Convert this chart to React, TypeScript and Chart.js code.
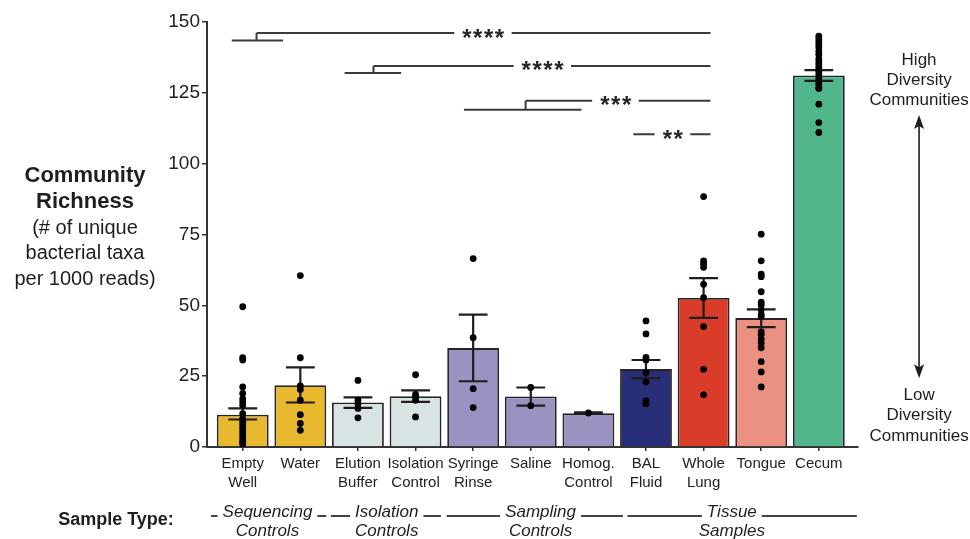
import React, { useEffect, useRef } from "react";
import { Chart, registerables } from "chart.js";

Chart.register(...registerables);

const FONT = "'Liberation Sans', Arial, Helvetica, sans-serif";

// ---- categories / tick labels ----
const categories: (string | string[])[] = [
  ["Empty", "Well"], "Water", ["Elution", "Buffer"], ["Isolation", "Control"],
  ["Syringe", "Rinse"], "Saline", ["Homog.", "Control"], ["BAL", "Fluid"],
  ["Whole", "Lung"], "Tongue", "Cecum",
];
const yTicks = [0, 25, 50, 75, 100, 125, 150];

// ---- bar means and SEM limits ----
const meanRichness = [11.4, 21.8, 15.7, 17.9, 34.9, 17.8, 11.9, 27.5, 52.6, 45.5, 131.1];
const semUpper = [13.6, 28.1, 17.5, 20.0, 46.7, 21.0, 12.2, 30.7, 59.6, 48.6, 133.0];
const semLower = [9.7, 15.7, 13.8, 15.9, 23.2, 14.6, 11.7, 24.3, 45.6, 42.3, 129.2];
const barColors = ["#E8B92E", "#E8B92E", "#D8E3E4", "#D8E3E4", "#9A93C1", "#9A93C1", "#9A93C1", "#282E78", "#D93C28", "#EB9181", "#52B68D"];

// ---- individual samples ----
const emptyWellPts = [49.5, 31.5, 30.7, 21.2, 18.9, 17, 15.9, 14.7, 11.8, 10, 9, 8, 7, 6, 5, 4, 3, 2, 1.5, 1];
const waterPts = [60.5, 31.5, 21.6, 20.3, 16.5, 11.4, 8.3, 5.9];
const elutionPts = [23.5, 16.5, 15.3, 13.6, 10.3];
const isolationPts = [25.5, 18.6, 17.7, 16.5, 10.6];
const syringePts = [66.5, 38.6, 20.6, 13.9];
const salinePts = [21.0, 14.6];
const homogPts = [12.0];
const balPts = [44.5, 39.9, 31.6, 30.7, 26.2, 23.0, 16.3, 15.3];
const wholeLungPts = [88.4, 65.7, 64.6, 63.4, 57.4, 52.7, 42.5, 27.4, 18.4];
const tonguePts = [75.1, 65.7, 61.0, 60.1, 54.8, 51.1, 50.1, 48.5, 46.8, 46.0, 40.7, 39.7, 38.0, 36.6, 35.0, 30.1, 26.5, 21.2];
const cecumPts = [145, 144, 143, 142, 141, 139.5, 138.5, 137, 136, 135, 134, 133, 132, 131, 130, 129, 128, 127, 126.5, 121, 114.5, 111];
const samplePts = [emptyWellPts, waterPts, elutionPts, isolationPts, syringePts, salinePts, homogPts, balPts, wholeLungPts, tonguePts, cecumPts];

// ---- significance brackets (x in category units, y in richness units) ----
const sigLabels = ["****", "****", "***", "**"];
const sigLowFrom = [-0.19, 1.77, 3.84, null];
const sigLowTo = [0.70, 2.75, 5.88, null];
const sigLowY = [143.5, 132.0, 119.0, null];
const sigStem = [0.24, 2.27, 4.91, 6.78];
const sigHighY = [146.1, 134.5, 122.2, 110.4];
const sigTextX = [4.17, 5.2, 6.47, 7.46];
const sigEnd = 8.12;

// ---- sample type groups ----
const groupNames = [["Sequencing", "Controls"], ["Isolation", "Controls"], ["Sampling", "Controls"], ["Tissue", "Samples"]];
const groupStart = [-0.55, 1.53, 3.54, 6.68];
const groupEnd = [1.45, 3.44, 6.6, 10.66];
const groupTextX = [0.43, 2.5, 5.17, 8.49];

// ---- right annotation ----
const arrowX = 11.74;
const arrowTop = 117.2;
const arrowBottom = 24.3;
const highLabel = ["High", "Diversity", "Communities"];
const highLabelY = [136.6, 129.5, 122.5];
const lowLabel = ["Low", "Diversity", "Communities"];
const lowLabelY = [18.4, 11.3, 3.9];

const titleBold = ["Community", "Richness"];
const titleRegular = ["(# of unique", "bacterial taxa", "per 1000 reads)"];

const overlayPlugin = {
  id: "overlay",
  afterDatasetDraw(chart: any, args: any) {
    if (args.index !== 0) return;
    const ctx = chart.ctx as CanvasRenderingContext2D;
    const xs = chart.scales.x;
    const ys = chart.scales.y;
    const half = xs.getPixelForValue(0.25) - xs.getPixelForValue(0);
    ctx.save();
    ctx.strokeStyle = "#1e1e1e";
    ctx.lineWidth = 2.2;
    ctx.lineCap = "butt";
    meanRichness.forEach((_, i) => {
      const x = xs.getPixelForValue(i);
      const yt = ys.getPixelForValue(semUpper[i]);
      const yb = ys.getPixelForValue(semLower[i]);
      ctx.beginPath();
      ctx.moveTo(x, yt); ctx.lineTo(x, yb);
      ctx.moveTo(x - half, yt); ctx.lineTo(x + half, yt);
      ctx.moveTo(x - half, yb); ctx.lineTo(x + half, yb);
      ctx.stroke();
    });
    ctx.restore();
  },
  afterDraw(chart: any) {
    const ctx = chart.ctx as CanvasRenderingContext2D;
    const xs = chart.scales.x;
    const ys = chart.scales.y;
    const area = chart.chartArea;
    const X = (v: number) => xs.getPixelForValue(v);
    const Y = (v: number) => ys.getPixelForValue(v);
    ctx.save();

    // significance brackets
    ctx.strokeStyle = "#3a3a3a";
    ctx.lineWidth = 2;
    ctx.fillStyle = "#262626";
    ctx.font = `bold 24px ${FONT}`;
    (ctx as any).letterSpacing = "1.5px";
    ctx.textAlign = "center";
    ctx.textBaseline = "alphabetic";
    sigLabels.forEach((lab, i) => {
      const hy = Y(sigHighY[i]);
      const lf = sigLowFrom[i];
      ctx.beginPath();
      if (lf !== null) {
        const ly = Y(sigLowY[i] as number);
        ctx.moveTo(X(lf), ly); ctx.lineTo(X(sigLowTo[i] as number), ly);
        ctx.moveTo(X(sigStem[i]), ly); ctx.lineTo(X(sigStem[i]), hy);
      }
      const m = ctx.measureText(lab);
      const tx = X(sigTextX[i]);
      const gap = 7;
      ctx.moveTo(X(sigStem[i]), hy); ctx.lineTo(tx - m.width / 2 - gap, hy);
      ctx.moveTo(tx + m.width / 2 + gap, hy); ctx.lineTo(X(sigEnd), hy);
      ctx.stroke();
      const base = hy + (m.actualBoundingBoxAscent - m.actualBoundingBoxDescent) / 2;
      ctx.fillText(lab, tx + 1, base);
    });
    (ctx as any).letterSpacing = "0px";

    // right annotation
    ctx.fillStyle = "#1e1e1e";
    ctx.font = `17px ${FONT}`;
    ctx.textBaseline = "middle";
    const ax = X(arrowX);
    highLabel.forEach((t, i) => ctx.fillText(t, ax, Y(highLabelY[i])));
    lowLabel.forEach((t, i) => ctx.fillText(t, ax, Y(lowLabelY[i])));
    const at = Y(arrowTop);
    const ab = Y(arrowBottom);
    ctx.strokeStyle = "#1e1e1e";
    ctx.lineWidth = 1.6;
    ctx.beginPath();
    ctx.moveTo(ax, at + 8); ctx.lineTo(ax, ab - 8);
    ctx.stroke();
    ctx.beginPath();
    ctx.moveTo(ax, at); ctx.lineTo(ax - 5, at + 14); ctx.lineTo(ax, at + 11); ctx.lineTo(ax + 5, at + 14); ctx.closePath();
    ctx.moveTo(ax, ab); ctx.lineTo(ax - 5, ab - 14); ctx.lineTo(ax, ab - 11); ctx.lineTo(ax + 5, ab - 14); ctx.closePath();
    ctx.fill();

    // left title
    const tcx = 85;
    ctx.font = `bold 22px ${FONT}`;
    titleBold.forEach((t, i) => ctx.fillText(t, tcx, 176 + i * 26));
    ctx.font = `20px ${FONT}`;
    titleRegular.forEach((t, i) => ctx.fillText(t, tcx, 228 + i * 25.5));

    // sample type row
    const rowBase = area.bottom + 70;
    ctx.textBaseline = "alphabetic";
    ctx.font = `bold 18px ${FONT}`;
    ctx.fillText("Sample Type:", 116, rowBase + 8);
    ctx.font = `italic 17px ${FONT}`;
    ctx.strokeStyle = "#444";
    ctx.lineWidth = 2;
    groupNames.forEach((g, i) => {
      const tx = X(groupTextX[i]);
      const w = ctx.measureText(g[0]).width;
      ctx.fillText(g[0], tx, rowBase);
      ctx.fillText(g[1], tx, rowBase + 19);
      const ly = rowBase - 1;
      ctx.beginPath();
      ctx.moveTo(X(groupStart[i]), ly); ctx.lineTo(tx - w / 2 - 5, ly);
      ctx.moveTo(tx + w / 2 + 5, ly); ctx.lineTo(X(groupEnd[i]), ly);
      ctx.stroke();
    });
    ctx.restore();
  },
};

export default function App() {
  const ref = useRef<HTMLCanvasElement>(null);
  useEffect(() => {
    const canvas = ref.current;
    if (!canvas) return;
    const points: { x: number; y: number }[] = [];
    samplePts.forEach((arr, i) => arr.forEach((v) => points.push({ x: i, y: v })));
    const chart = new Chart(canvas, {
      type: "bar",
      data: {
        datasets: [
          {
            type: "bar",
            data: meanRichness.map((v, i) => ({ x: i, y: v })),
            backgroundColor: barColors,
            borderColor: "#262626",
            borderWidth: 1.8,
            barPercentage: 0.9,
            categoryPercentage: 1,
            order: 1,
          } as any,
          {
            type: "scatter",
            data: points,
            backgroundColor: "#000",
            borderWidth: 0,
            pointRadius: 3.4,
            order: 0,
          } as any,
        ],
      },
      options: {
        responsive: false,
        animation: false,
        devicePixelRatio: 1,
        layout: { padding: { left: 0, right: 112, top: 22, bottom: 0 } },
        plugins: { legend: { display: false }, tooltip: { enabled: false } },
        scales: {
          x: {
            type: "linear",
            min: -0.62,
            max: 10.68,
            offset: false,
            afterBuildTicks: (scale: any) => {
              scale.ticks = categories.map((_, i) => ({ value: i }));
            },
            afterFit: (scale: any) => { scale.height = 92; },
            grid: { display: true, offset: false, drawOnChartArea: false, drawTicks: true, tickLength: 4, color: "#333", lineWidth: 1.5 },
            border: { display: true, color: "#333", width: 2 },
            ticks: {
              autoSkip: false,
              maxRotation: 0,
              padding: 3,
              color: "#222",
              font: { family: FONT, size: 15, lineHeight: 1.3 },
              callback: (v: any) => categories[v as number] as any,
            },
          },
          y: {
            type: "linear",
            min: 0,
            max: 150,
            afterBuildTicks: (scale: any) => {
              scale.ticks = yTicks.map((v) => ({ value: v }));
            },
            afterFit: (scale: any) => { scale.width = 207; },
            grid: { display: true, offset: false, drawOnChartArea: false, drawTicks: true, tickLength: 5, color: "#333", lineWidth: 1.5 },
            border: { display: true, color: "#333", width: 2 },
            ticks: { padding: 2, color: "#222", font: { family: FONT, size: 19 } },
          },
        },
      } as any,
      plugins: [overlayPlugin],
    });
    return () => chart.destroy();
  }, []);
  return (
    <div style={{ position: "absolute", left: 0, top: 0, width: 970, height: 539, background: "#fff" }}>
      <canvas ref={ref} width={970} height={539} style={{ width: 970, height: 539, display: "block" }} />
    </div>
  );
}
